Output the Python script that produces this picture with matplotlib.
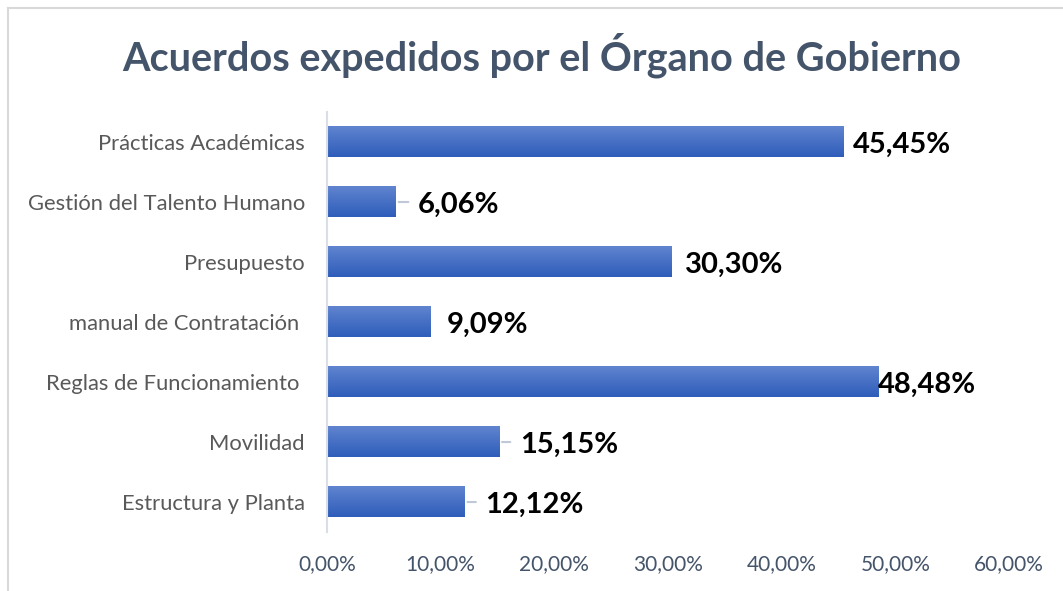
import matplotlib
matplotlib.use("Agg")
import matplotlib.pyplot as plt
import numpy as np
from matplotlib.lines import Line2D

# Datos del gráfico (de abajo hacia arriba)
categorias = ["Estructura y Planta", "Movilidad", "Reglas de Funcionamiento ",
              "manual de Contratación ", "Presupuesto", "Gestión del Talento Humano",
              "Prácticas Académicas"]
porcentajes = [12.12, 15.15, 48.48, 9.09, 30.30, 6.06, 45.45]
ticks_x = [0, 10, 20, 30, 40, 50, 60]

# Desplazamiento de cada etiqueta (en puntos) y si lleva línea guía
desplazamientos = [15, 15, 0, 12, 10, 16, 7]
con_guia = [True, True, False, False, False, True, False]

plt.rcParams['font.family'] = ['Lato', 'DejaVu Sans']

fig = plt.figure(figsize=(10.63, 5.91), dpi=100)
ax = fig.add_axes([0.3076, 0.0998, 0.6416, 0.7107])

# Marco gris claro del área del gráfico
fig.add_artist(Line2D([0.0075, 1.0], [0.986, 0.986], color="#D9D9D9", lw=1.5,
                      transform=fig.transFigure))
fig.add_artist(Line2D([0.0075, 0.0075], [0.0, 0.986], color="#D9D9D9", lw=1.5,
                      transform=fig.transFigure))

y = np.arange(len(categorias))
barras = ax.barh(y, porcentajes, height=0.5, color="#4472C4")

# Degradado azul en cada barra (claro arriba, oscuro abajo)
gradiente = np.linspace(0, 1, 50).reshape(-1, 1)
cmap = matplotlib.colors.LinearSegmentedColormap.from_list("azul", ["#2E5DBA", "#6084CF"])
for b in barras:
    x0, y0, w, h = b.get_x(), b.get_y(), b.get_width(), b.get_height()
    ax.imshow(gradiente, extent=[x0, x0 + w, y0 + h, y0], cmap=cmap,
              aspect="auto", zorder=2, origin="upper")
    b.set_visible(False)

ax.set_xlim(0, 60)
ax.set_ylim(-0.5, len(categorias) - 0.5)

# Etiquetas de datos (un poco por debajo del centro de la barra)
for i, v in enumerate(porcentajes):
    txt = f"{v:.2f}".replace(".", ",") + "%"
    ax.annotate(txt, xy=(v, i), xytext=(desplazamientos[i], -2), textcoords="offset points",
                ha="left", va="center", fontsize=21, fontweight="bold", color="black", zorder=4)
    if con_guia[i]:
        ax.annotate("", xy=(v, i), xytext=(desplazamientos[i] - 5, 0), textcoords="offset points",
                    arrowprops=dict(arrowstyle="-", color="#BFC8D6", lw=1.5), zorder=3)

ax.set_yticks(y)
ax.set_yticklabels(categorias, fontsize=15.8, color="#595959")
ax.set_xticks(ticks_x)
ax.set_xticklabels([f"{t:.2f}".replace(".", ",") + "%" for t in ticks_x], fontsize=15, color="#44546A")
ax.tick_params(axis="both", length=0)
ax.tick_params(axis="y", pad=16)
ax.tick_params(axis="x", pad=16)

for lado in ["top", "right", "bottom"]:
    ax.spines[lado].set_visible(False)
ax.spines["left"].set_color("#D9DEE6")
ax.spines["left"].set_linewidth(1.5)

fig.text(0.51, 0.907, "Acuerdos expedidos por el Órgano de Gobierno", ha="center", va="center",
         fontsize=28.5, fontweight="bold", color="#44546A")

fig.savefig("out.png", dpi=100)
